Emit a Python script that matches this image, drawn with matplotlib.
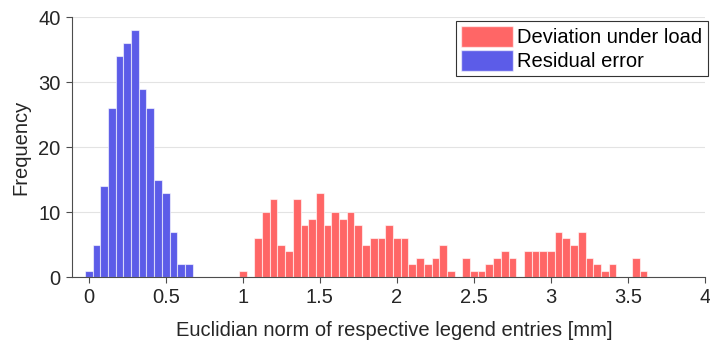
import matplotlib
matplotlib.use("Agg")
import matplotlib.pyplot as plt
import matplotlib.patches as patches
import numpy as np

plt.rcParams['font.family'] = ['Liberation Sans', 'DejaVu Sans']

# histogram bins (width 0.05 mm, values are bin centres)
BIN_WIDTH = 0.05
residual_centers = np.round(np.arange(0.0, 0.651, BIN_WIDTH), 2)
residual_counts = [1, 5, 14, 26, 34, 36, 38, 29, 26, 15, 13, 7, 2, 2]

deviation_centers = np.round(np.arange(1.0, 3.601, BIN_WIDTH), 2)
deviation_counts = [1, 0, 6, 10, 12, 5, 4, 12, 8, 9,
                    13, 8, 10, 9, 10, 8, 5, 6, 6, 8,
                    6, 6, 2, 3, 2, 3, 5, 1, 0, 3,
                    1, 1, 2, 3, 4, 3, 0, 4, 4, 4,
                    4, 7, 6, 5, 7, 3, 2, 1, 2, 0,
                    0, 3, 1]

x_ticks = [0, 0.5, 1, 1.5, 2, 2.5, 3, 3.5, 4]
x_tick_labels = ['0', '0.5', '1', '1.5', '2', '2.5', '3', '3.5', '4']
y_ticks = [0, 10, 20, 30, 40]

RED = (1.0, 0.4, 0.4)
BLUE = (0.36, 0.36, 0.91)
EDGE = (1.0, 1.0, 1.0, 0.6)
FS = 14.5

fig = plt.figure(figsize=(7.1, 3.42), dpi=100, facecolor='white')
ax = fig.add_axes([0.101, 0.19, 0.892, 0.76])

ax.bar(deviation_centers, deviation_counts, width=BIN_WIDTH, color=RED,
       edgecolor=EDGE, linewidth=0.8, zorder=2)
ax.bar(residual_centers, residual_counts, width=BIN_WIDTH, color=BLUE,
       edgecolor=EDGE, linewidth=0.8, zorder=2)

ax.set_xlim(-0.11, 4)
ax.set_ylim(0, 40)
ax.set_xticks(x_ticks)
ax.set_xticklabels(x_tick_labels)
ax.set_yticks(y_ticks)

ax.yaxis.grid(True, color='#e3e3e3', linewidth=0.8, zorder=0)
ax.set_axisbelow(True)

for side in ['top', 'right']:
    ax.spines[side].set_visible(False)
for side in ['left', 'bottom']:
    ax.spines[side].set_color('#4d4d4d')
    ax.spines[side].set_linewidth(0.8)
ax.tick_params(direction='out', length=4, width=0.8, color='#4d4d4d',
               labelsize=FS, labelcolor='#262626', pad=4)

ax.set_xlabel('Euclidian norm of respective legend entries [mm]',
              fontsize=FS, color='#262626', labelpad=8)
ax.xaxis.set_label_coords(0.51, -0.17)
ax.set_ylabel('Frequency', fontsize=FS, color='#262626', labelpad=6)

handles = [patches.Patch(facecolor=RED, edgecolor=EDGE),
           patches.Patch(facecolor=BLUE, edgecolor=EDGE)]
leg = ax.legend(handles, ['Deviation under load', 'Residual error'],
                loc='upper right', bbox_to_anchor=(1.004, 0.985),
                fontsize=FS, fancybox=False, framealpha=1,
                handlelength=2.6, handleheight=1.2, handletextpad=0.2,
                borderpad=0.25, labelspacing=0.15, borderaxespad=0.0)
leg.get_frame().set_edgecolor('#333333')
leg.get_frame().set_linewidth(0.8)

fig.savefig('out.png', dpi=100, facecolor='white')
